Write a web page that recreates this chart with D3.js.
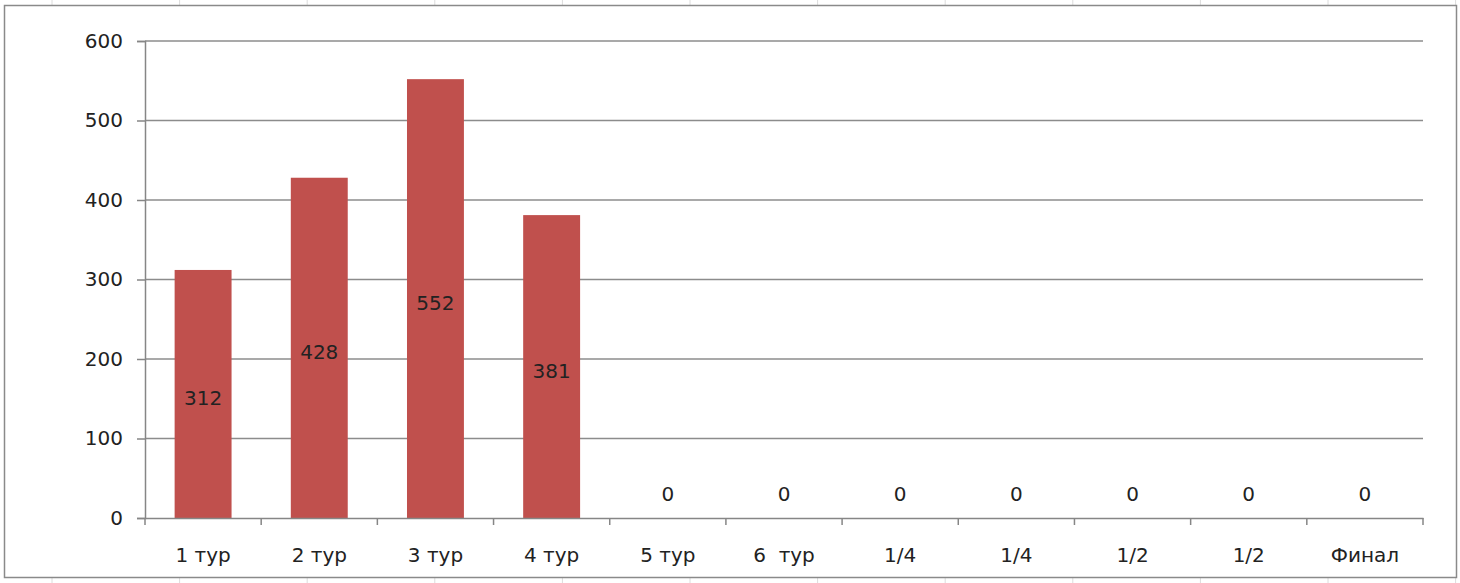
<!DOCTYPE html>
<html>
<head>
<meta charset="utf-8">
<script src="https://cdn.jsdelivr.net/npm/d3@7"></script>
<style>
  body { margin: 0; background: #fff; }
  text { font-family: "DejaVu Sans", Verdana, sans-serif; white-space: pre; }
</style>
</head>
<body>
<script>
// round names and counts
const categories = ["1 тур", "2 тур", "3 тур", "4 тур", "5 тур", "6  тур", "1/4", "1/4", "1/2", "1/2", "Финал"]
const values = [312, 428, 552, 381, 0, 0, 0, 0, 0, 0, 0]
const yTicks = [0, 100, 200, 300, 400, 500, 600]

let width = 1460
let height = 583

let svg = d3.select("body").append("svg")
  .attr("width", width)
  .attr("height", height)

// faint sheet columns behind the chart
const sheetCols = d3.range(52, width, 127.6)
svg.selectAll(".sheet")
  .data(sheetCols).enter()
  .append("line")
  .attr("x1", d => d).attr("x2", d => d)
  .attr("y1", 0).attr("y2", height)
  .attr("stroke", "#dcdcdc")

// chart area box
svg.append("rect")
  .attr("x", 4.5).attr("y", 5.5)
  .attr("width", 1452).attr("height", 572)
  .attr("fill", "#fff")
  .attr("stroke", "#8a8a8a")
  .attr("stroke-width", 1.5)

let x = d3.scaleBand()
  .domain(d3.range(categories.length))
  .range([145, 1423])
  .padding(0)

let y = d3.scaleLinear()
  .domain([0, 600])
  .range([518, 41])

// gridlines
svg.selectAll(".grid")
  .data(yTicks.slice(1)).enter()
  .append("line")
  .attr("x1", 145).attr("x2", 1423)
  .attr("y1", d => y(d)).attr("y2", d => y(d))
  .attr("stroke", "#8c8c8c")
  .attr("stroke-width", 1.5)

// bars
const barW = x.bandwidth() * 0.49
svg.selectAll(".bar")
  .data(values).enter()
  .append("rect")
  .attr("x", (d, i) => x(i) + (x.bandwidth() - barW) / 2)
  .attr("y", d => y(d))
  .attr("width", barW)
  .attr("height", d => y(0) - y(d))
  .attr("fill", "#C0504D")

// value labels
svg.selectAll(".val")
  .data(values).enter()
  .append("text")
  .attr("x", (d, i) => x(i) + x.bandwidth() / 2)
  .attr("y", d => d > 0 ? (y(d) + y(0)) / 2 + 4 : y(0) - 24)
  .attr("dy", "0.35em")
  .attr("text-anchor", "middle")
  .attr("font-size", 20)
  .attr("fill", "#222")
  .text(d => d)

// y axis
let yAxis = d3.axisLeft(y).tickValues(yTicks).tickSize(8).tickPadding(14)
let gy = svg.append("g").attr("transform", "translate(145,0)").call(yAxis)
gy.select(".domain").attr("stroke", "#868686").attr("stroke-width", 1.5)
gy.selectAll(".tick line").attr("stroke", "#868686").attr("stroke-width", 1.5)
gy.selectAll(".tick text").attr("font-size", 20).attr("fill", "#222")
  .style("font-family", "DejaVu Sans, Verdana, sans-serif")

// x axis
let xAxis = d3.axisBottom(x).tickSize(0).tickPadding(30).tickFormat(i => categories[i])
let gx = svg.append("g").attr("transform", "translate(0,518)").call(xAxis)
gx.select(".domain").attr("stroke", "#868686").attr("stroke-width", 1.5)
gx.selectAll(".tick text").attr("font-size", 20).attr("fill", "#222")
  .style("font-family", "DejaVu Sans, Verdana, sans-serif")
  .style("white-space", "pre")

// tick marks at category boundaries
const bounds = d3.range(categories.length + 1).map(i => x.range()[0] + i * x.step())
svg.selectAll(".xt")
  .data(bounds).enter()
  .append("line")
  .attr("x1", d => d).attr("x2", d => d)
  .attr("y1", 518).attr("y2", 525)
  .attr("stroke", "#868686")
  .attr("stroke-width", 1.5)
</script>
</body>
</html>
